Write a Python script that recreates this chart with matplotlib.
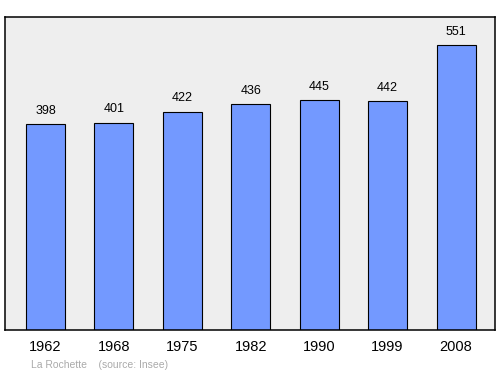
import matplotlib
matplotlib.use("Agg")
import matplotlib.pyplot as plt

years = ["1962", "1968", "1975", "1982", "1990", "1999", "2008"]
population = [398, 401, 422, 436, 445, 442, 551]

fig = plt.figure(figsize=(5, 3.74), dpi=100)
ax = fig.add_axes([5/500, 1-330/374, 490/500, 313/374])
ax.set_facecolor("#eeeeee")
x = list(range(len(years)))
ax.bar(x, population, width=0.57, color="#7399ff", edgecolor="black", linewidth=0.8, zorder=2)
for xi, v in zip(x, population):
    ax.text(xi, v + 14, str(v), ha="center", va="bottom", fontsize=9, family="Liberation Sans")
ax.set_xlim(-0.592, 6.57)
ax.set_ylim(0, 605)
ax.set_yticks([])
ax.set_xticks(x)
ax.set_xticklabels(years, fontsize=10.5, family="Liberation Sans")
ax.tick_params(axis="x", length=0, pad=7)
for s in ax.spines.values():
    s.set_linewidth(1.1)
fig.text(31/500, 1-365/374, "La Rochette    (source: Insee)", fontsize=7.5, color="#aaaaaa",
         family="Liberation Sans", va="center", ha="left")
fig.savefig("out.png", dpi=100)
